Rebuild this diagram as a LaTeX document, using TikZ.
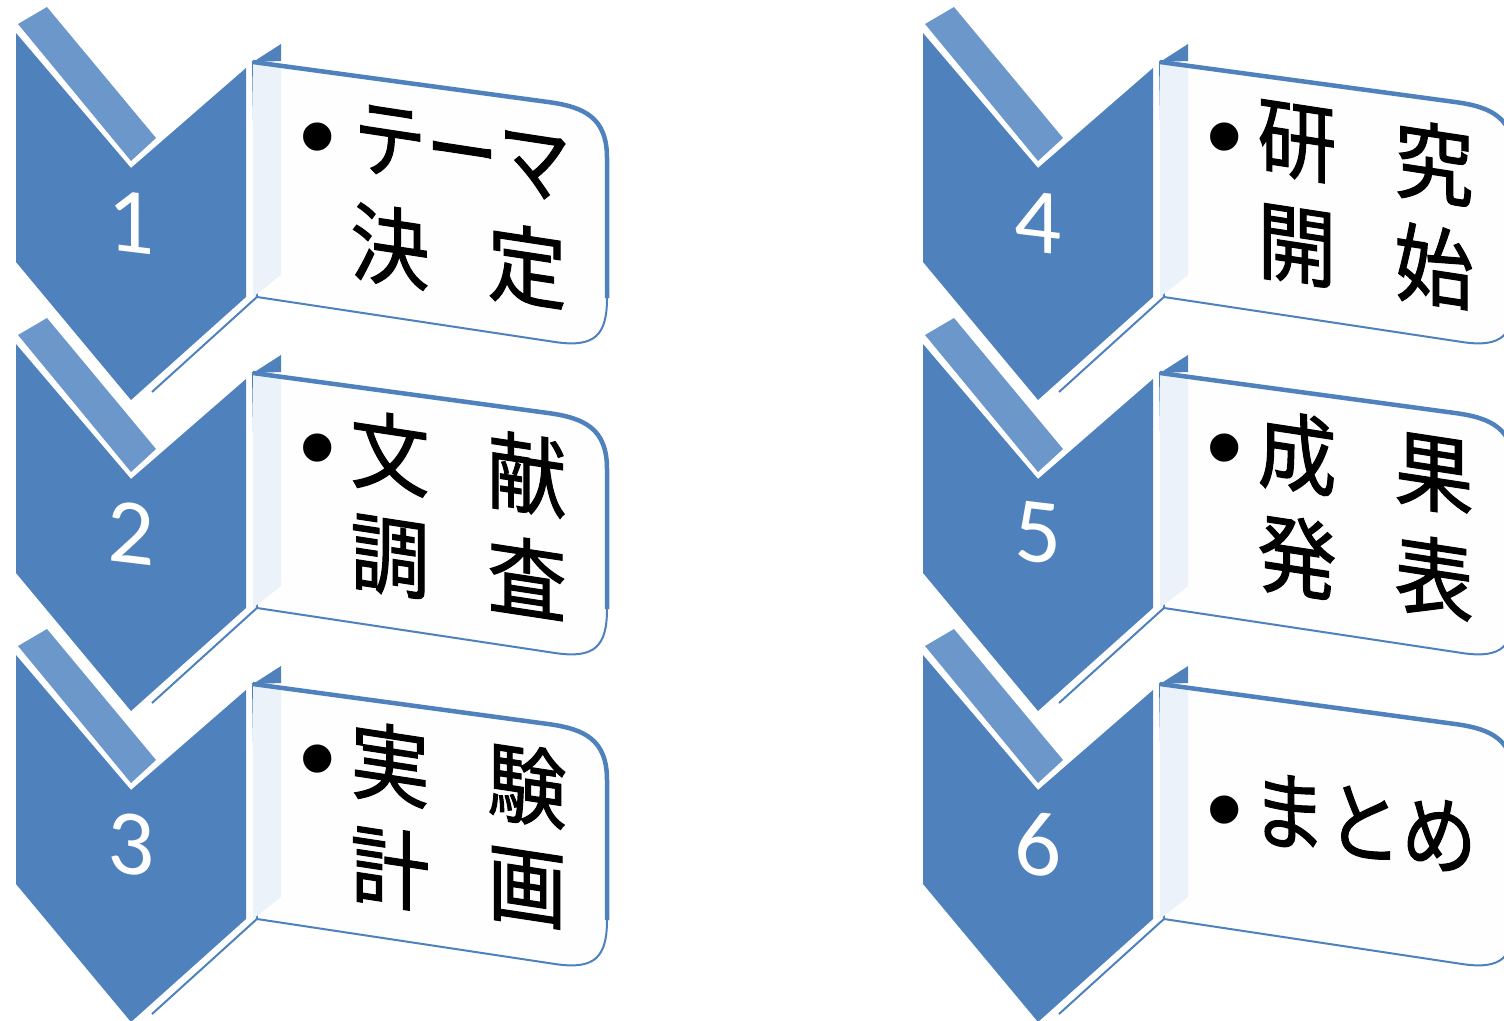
\documentclass[tikz,border=0pt]{standalone}
\usepackage{fontspec}
\newfontfamily\jpfont[FakeBold=1.3]{Noto Sans CJK JP}
\newfontfamily\numfont{Carlito}
\newfontfamily\bulfont{Liberation Sans}
\definecolor{cfront}{RGB}{79,129,189}
\definecolor{cstripe}{RGB}{108,151,202}
\definecolor{cside}{RGB}{236,242,250}
\definecolor{cface}{RGB}{254,254,254}
\tikzset{
  frontface/.style={fill=cfront},
  stripeface/.style={fill=cstripe},
  sideface/.style={fill=cside},
  boxface/.style={fill=cface, draw=cfront, line width=2pt},
  topborder/.style={draw=cfront, line width=4.5pt, line join=round},
  depthline/.style={draw=cfront, line width=2pt},
  numtext/.style={font=\numfont\fontsize{93}{93}\selectfont, text=white, inner sep=0pt, yslant=-0.12},
  jptext/.style={font=\jpfont\fontsize{86}{90}\selectfont, text=black, inner sep=0pt, xscale=0.92, yslant=-0.14},
  kanatext/.style={jptext, xscale=0.95},
  bultext/.style={font=\bulfont\fontsize{104}{104}\selectfont, text=black, inner sep=0pt},
}
% one chevron + box unit; #1 x offset, #2 y offset, #3 number
\newcommand\stepunit[3]{%
\begin{scope}[shift={(#1,#2)}]
  \fill[stripeface] (18,24) -- (47,7) -- (156,138) -- (131,161) -- cycle;
  \fill[frontface] (16,33) -- (131,168) -- (246,68) -- (246,297) -- (131,400) -- (16,262) -- cycle;
  \draw[depthline] (258,296) -- (152,392);
  \path[boxface] (253,62) -- (548,102) .. controls (585,107) and (607,118) .. (607,158) -- (607,298)
        .. controls (607,335) and (595,348) .. (555,342) -- (257,297) -- cycle;
  \fill[sideface] (253,64) -- (281,64) -- (281,275) -- (253,297) -- cycle;
  \draw[topborder] (253,62) -- (548,102) .. controls (585,107) and (607,118) .. (607,158) -- (607,298);
  \fill[frontface] (253,62) -- (281,44) -- (281,61) -- cycle;
  \node[numtext] (num#3) at (131,222) {#3};
\end{scope}}
% two-by-two text in a box; #1 x off, #2 y off, #3 name, #4-#7 characters
\newcommand\fourchars[7]{%
\begin{scope}[shift={(#1,#2)}]
  \node[bultext] (bul#3) at (318,147) {•};
  \node[jptext] (#3a) at (390,142) {#4};
  \node[jptext] (#3b) at (527,163) {#5};
  \node[jptext] (#3c) at (390,246) {#6};
  \node[jptext] (#3d) at (527,266) {#7};
\end{scope}}
\begin{document}
\begin{tikzpicture}[x=1pt,y=-1pt]
\useasboundingbox (0,0) rectangle (1504,1020);
\clip (0,0) rectangle (1504,1020);
\stepunit{0}{0}{1}
\stepunit{0}{311}{2}
\stepunit{0}{622}{3}
\stepunit{907}{0}{4}
\stepunit{907}{311}{5}
\stepunit{907}{622}{6}
% box 1
\node[bultext] (bul1) at (318,147) {•};
\node[kanatext, xscale=0.96] (t1a) at (462,153) {テーマ};
\node[jptext] (t1d) at (390,246) {決};
\node[jptext] (t1e) at (527,266) {定};
\fourchars{0}{311}{t2}{文}{献}{調}{査}
\fourchars{0}{622}{t3}{実}{験}{計}{画}
\fourchars{907}{0}{t4}{研}{究}{開}{始}
\fourchars{907}{311}{t5}{成}{果}{発}{表}
% box 6
\node[bultext] (bul6) at (1225,820) {•};
\node[kanatext] (t6a) at (1364,823) {まとめ};
\end{tikzpicture}
\end{document}
